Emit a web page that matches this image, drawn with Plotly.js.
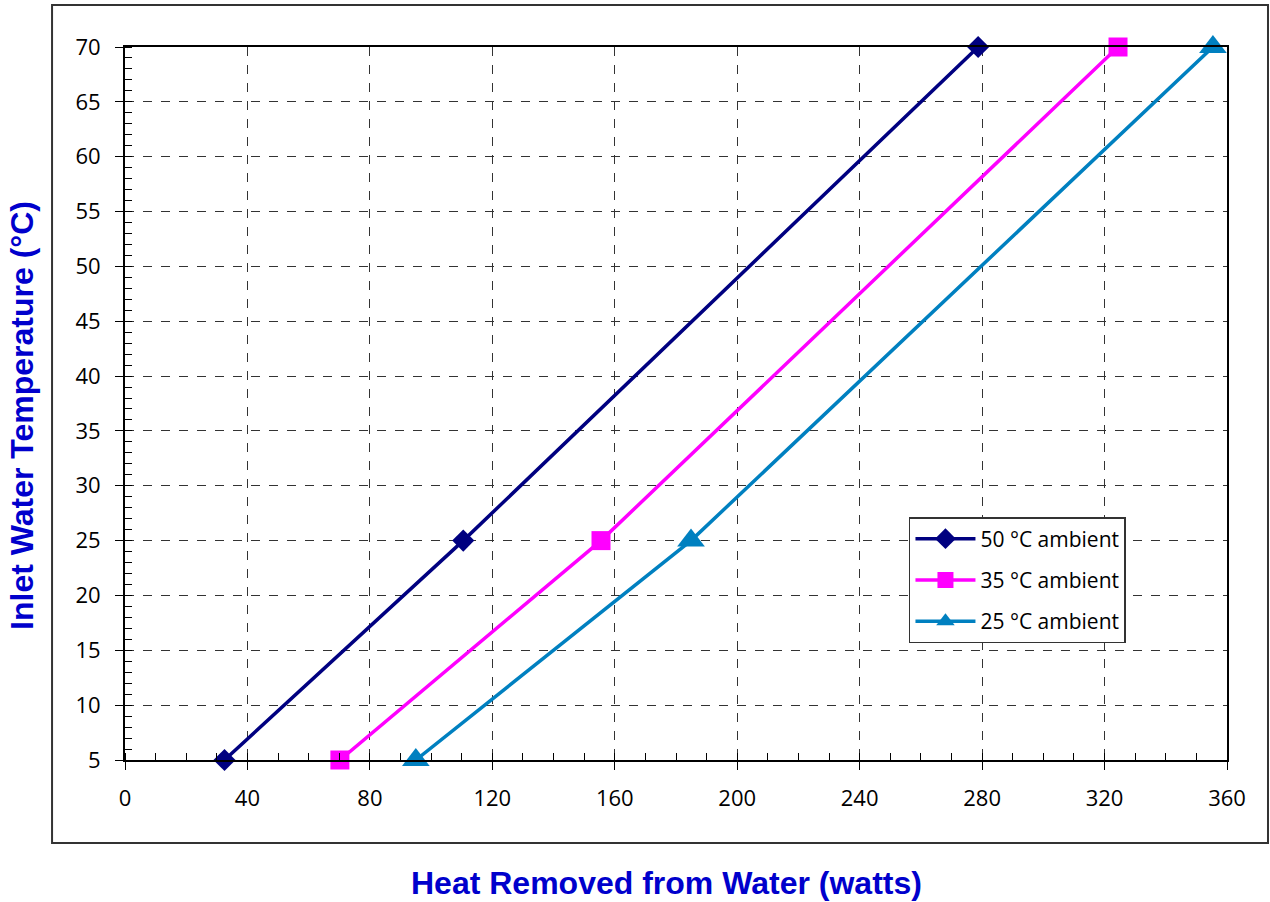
<!DOCTYPE html>
<html>
<head>
<meta charset="utf-8">
<script src="https://cdn.plot.ly/plotly-3.0.1.min.js"></script>
<style>html,body{margin:0;padding:0;background:#fff;}#chart{width:1270px;height:902px;}</style>
</head>
<body>
<div id="chart"></div>
<script>
const seriesNames = ["50 °C ambient", "35 °C ambient", "25 °C ambient"];
const inletTemp = [5, 25, 70];
const heat50 = [32.5, 110.5, 278.7];
const heat35 = [70.2, 155.5, 324.4];
const heat25 = [95, 184.9, 355.4];
const colors = ["#000080", "#FF00FF", "#0080C0"];
const symbols = ["diamond", "square", "triangle-up"];
const markerSizes = [17, 19, 24];
const xTicks = [0, 40, 80, 120, 160, 200, 240, 280, 320, 360];
const yTicks = [5, 10, 15, 20, 25, 30, 35, 40, 45, 50, 55, 60, 65, 70];
const xTitle = "Heat Removed from Water (watts)";
const yTitle = "Inlet Water Temperature (°C)";

const heats = [heat50, heat35, heat25];
const traces = heats.map((h, i) => ({
  x: h, y: inletTemp, type: "scatter", mode: "lines+markers", name: seriesNames[i],
  legendgroup: "g" + i,
  line: {color: colors[i], width: 3.5},
  marker: {symbol: symbols[i], size: markerSizes[i], color: colors[i]},
  cliponaxis: false
}));

const tickFont = {family: "'Open Sans', sans-serif", size: 22, color: "#000"};
const titleFont = {family: "'Liberation Sans', Arial, sans-serif", size: 32, color: "#0000CC", weight: "bold"};

const layout = {
  width: 1270, height: 902,
  margin: {l: 125, r: 43, t: 47, b: 142},
  paper_bgcolor: "#fff", plot_bgcolor: "#fff",
  showlegend: true,
  legend: {
    x: 0.7114, y: 0.3408, xanchor: "left", yanchor: "top",
    bordercolor: "#333", borderwidth: 1.5, bgcolor: "#fff",
    font: {family: "'Open Sans', sans-serif", size: 21, color: "#000"},
    tracegroupgap: 11, itemwidth: 60
  },
  xaxis: {
    range: [0, 360], tickvals: xTicks, ticktext: xTicks.map(String),
    showline: true, mirror: true, linecolor: "#000", linewidth: 2,
    ticks: "outside", ticklen: 8, tickcolor: "#000", tickwidth: 1,
    minor: {dtick: 10, ticks: "inside", ticklen: 7, tickcolor: "#000", tickwidth: 1, showgrid: false},
    showgrid: true, gridcolor: "#333", griddash: "dash", gridwidth: 1,
    zeroline: false, tickfont: tickFont, ticklabelstandoff: 10
  },
  yaxis: {
    range: [5, 70], tickvals: yTicks, ticktext: yTicks.map(String),
    showline: true, mirror: true, linecolor: "#000", linewidth: 2,
    ticks: "outside", ticklen: 8, tickcolor: "#000", tickwidth: 1,
    minor: {dtick: 1, ticks: "inside", ticklen: 7, tickcolor: "#000", tickwidth: 1, showgrid: false},
    showgrid: true, gridcolor: "#333", griddash: "dash", gridwidth: 1,
    zeroline: false, tickfont: tickFont, ticklabelstandoff: 10
  },
  annotations: [
    {text: xTitle, xref: "paper", yref: "paper", x: 0.4918, y: -0.1725,
     xanchor: "center", yanchor: "middle", showarrow: false, font: titleFont},
    {text: yTitle, xref: "paper", yref: "paper", x: -0.0935, y: 0.4839, textangle: -90,
     xanchor: "center", yanchor: "middle", showarrow: false, font: titleFont}
  ],
  shapes: [{
    type: "rect", xref: "paper", yref: "paper",
    x0: -0.0662, x1: 1.0372, y0: -0.1164, y1: 1.0589,
    line: {color: "#333", width: 2}, fillcolor: "rgba(0,0,0,0)", layer: "below"
  }]
};

Plotly.newPlot("chart", traces, layout, {displayModeBar: false, staticPlot: true});
</script>
</body>
</html>
